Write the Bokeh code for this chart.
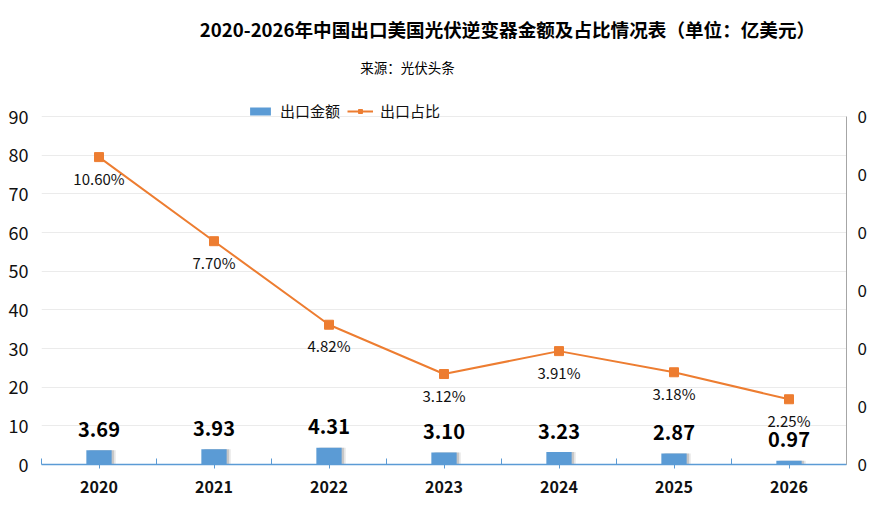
from bokeh.plotting import figure
from bokeh.models import (Range1d, LinearAxis, FixedTicker, NumeralTickFormatter,
                          Legend, LegendItem, Label, ColumnDataSource)
from bokeh.transform import dodge
from bokeh.core.properties import value
from bokeh.embed import file_html
from bokeh.resources import INLINE

years = ["2020", "2021", "2022", "2023", "2024", "2025", "2026"]
amounts = [3.69, 3.93, 4.31, 3.10, 3.23, 2.87, 0.97]
shares = [0.1060, 0.0770, 0.0482, 0.0312, 0.0391, 0.0318, 0.0225]
left_ticks = [0, 10, 20, 30, 40, 50, 60, 70, 80, 90]
right_ticks = [0, 0.02, 0.04, 0.06, 0.08, 0.10, 0.12]

TITLE = "2020-2026年中国出口美国光伏逆变器金额及占比情况表（单位：亿美元）"
SUBTITLE = "来源：光伏头条"
FONT = "Noto Sans CJK SC"

BLUE = "#5B9BD5"
ORANGE = "#ED7D31"

xs = [i + 0.5 for i in range(len(years))]
src = ColumnDataSource(dict(
    x=xs, amt=amounts, share=shares,
    amt_lbl=[f"{v:.2f}" for v in amounts],
    share_lbl=[f"{v*100:.2f}%" for v in shares],
))

# frame extends up to the top of the canvas (room for title / legend);
# axes are bounded to the 0-90 / 0-0.12 part
p = figure(width=873, height=509, output_backend="svg", toolbar_location=None,
           x_range=Range1d(0, len(years)), y_range=Range1d(0, 120),
           min_border_left=41, min_border_right=27, min_border_top=0,
           min_border_bottom=45, background_fill_color="white",
           border_fill_color="white", outline_line_color=None)
p.extra_y_ranges = {"pct": Range1d(0, 0.16)}

# grid
p.xgrid.visible = False
p.ygrid.grid_line_color = "#EBEBEB"
p.ygrid.grid_line_width = 1
p.ygrid.ticker = FixedTicker(ticks=left_ticks[1:])

# x axis
xa = p.xaxis[0]
xa.ticker = FixedTicker(ticks=xs, minor_ticks=list(range(len(years) + 1)))
xa.major_label_overrides = {x: y for x, y in zip(xs, years)}
xa.axis_line_color = BLUE
xa.axis_line_width = 1.3
xa.major_tick_line_color = BLUE
xa.major_tick_in = 0
xa.major_tick_out = 4
xa.minor_tick_line_color = BLUE
xa.minor_tick_in = 6
xa.minor_tick_out = 0
xa.major_label_text_font = FONT
xa.major_label_text_font_size = "16px"
xa.major_label_text_font_style = "bold"
xa.major_label_text_color = "#111111"
xa.major_label_standoff = 12

# left axis
ya = p.yaxis[0]
ya.ticker = FixedTicker(ticks=left_ticks)
ya.bounds = (0, 90)
ya.axis_line_color = None
ya.major_tick_line_color = None
ya.major_tick_out = 0
ya.major_tick_in = 0
ya.minor_tick_line_color = None
ya.minor_tick_out = 0
ya.major_label_text_font = FONT
ya.major_label_text_font_size = "18px"
ya.major_label_text_color = "#111111"
ya.major_label_standoff = 13

# right axis
ra = LinearAxis(y_range_name="pct", ticker=FixedTicker(ticks=right_ticks),
                formatter=NumeralTickFormatter(format="0"), bounds=(0, 0.12))
ra.axis_line_color = "#A6A6A6"
ra.major_tick_line_color = None
ra.major_tick_out = 0
ra.major_tick_in = 0
ra.minor_tick_line_color = None
ra.minor_tick_out = 0
ra.major_label_text_font = FONT
ra.major_label_text_font_size = "17px"
ra.major_label_text_color = "#111111"
ra.major_label_standoff = 11
p.add_layout(ra, "right")

# bars with soft shadow
p.vbar(x=dodge("x", 0.035, range=p.x_range), top="amt", width=0.22, source=src,
       fill_color="#8C8C8C", fill_alpha=0.22, line_color=None)
p.vbar(x=dodge("x", 0.02, range=p.x_range), top="amt", width=0.22, source=src,
       fill_color="#7F7F7F", fill_alpha=0.3, line_color=None)
bars = p.vbar(x="x", top="amt", width=0.22, source=src,
              fill_color=BLUE, line_color=None)

# bar labels
p.text(x="x", y="amt", text="amt_lbl", source=src, text_align="center",
       text_baseline="alphabetic", y_offset=-21, text_font=value(FONT),
       text_font_size="20px", text_font_style="bold", text_color="#000000")

# line
ln = p.line(x="x", y="share", source=src, y_range_name="pct",
            line_color=ORANGE, line_width=2)
mk = p.scatter(x="x", y="share", source=src, y_range_name="pct", marker="square",
               size=9, fill_color=ORANGE, line_color=ORANGE)
p.text(x="x", y="share", text="share_lbl", source=src, y_range_name="pct",
       text_align="center", text_baseline="middle", y_offset=21,
       text_font=value(FONT), text_font_size="15px", text_color="#111111")

# legend
legend = Legend(items=[LegendItem(label="出口金额", renderers=[bars]),
                       LegendItem(label="出口占比", renderers=[ln, mk])],
                orientation="horizontal", location=(206, 343),
                glyph_width=26, glyph_height=10, label_standoff=7, spacing=7,
                padding=0, margin=0, border_line_color=None,
                background_fill_alpha=0, label_text_font=FONT,
                label_text_font_size="15px", label_text_color="#111111",
                label_height=18)
p.add_layout(legend, "center")

# title & subtitle
p.add_layout(Label(x=466, y=436, x_units="screen", y_units="screen", text=TITLE,
                   text_align="center", text_baseline="middle", text_font=FONT,
                   text_font_size="18.6px", text_font_style="bold",
                   text_color="#000000"))
p.add_layout(Label(x=366, y=398, x_units="screen", y_units="screen", text=SUBTITLE,
                   text_align="center", text_baseline="middle", text_font=FONT,
                   text_font_size="13.5px", text_color="#000000"))

open("out.html", "w").write(file_html(p, INLINE))
